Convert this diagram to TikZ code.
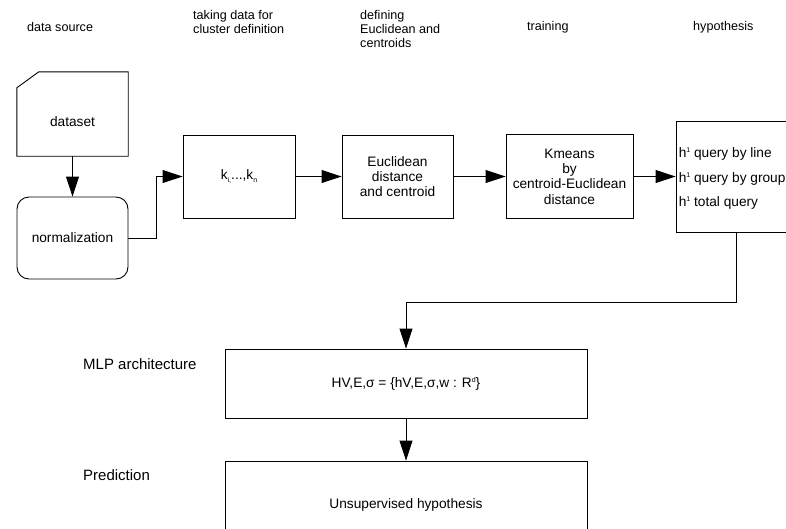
\documentclass[tikz,border=0pt]{standalone}
\usepackage{fontspec}
\setmainfont{Liberation Sans}
\usetikzlibrary{arrows.meta,calc}
\newcommand{\hdrfont}{\fontsize{12.6}{14}\selectfont}
\newcommand{\bodyfont}{\fontsize{13.7}{15.3}\selectfont}
\newcommand{\sidefont}{\fontsize{15}{18}\selectfont}
\newcommand{\tinysub}[1]{\raisebox{-3pt}{\fontsize{7}{7}\selectfont #1}}
\newcommand{\tinysup}[1]{\raisebox{5pt}{\fontsize{7}{7}\selectfont #1}}
\tikzset{
  boxnode/.style={draw, line width=0.9pt, inner sep=0pt, align=center, font=\bodyfont},
  hdrtext/.style={anchor=west, align=left, font=\hdrfont, inner sep=0pt},
  sidetext/.style={anchor=west, font=\sidefont, inner sep=0pt},
  conn/.style={line width=0.9pt, -{Triangle[length=20pt,width=13pt]}},
  plainline/.style={line width=0.9pt}
}
\begin{document}
\begin{tikzpicture}[x=1pt,y=-1pt]
\clip (0,0) rectangle (786,528);
\fill[white] (0,0) rectangle (786,528);
% headers
\node[hdrtext] (h1) at (27,27) {data source};
\node[hdrtext] (h2) at (193,22) {taking data for\\cluster definition};
\node[hdrtext] (h3) at (360,29) {defining\\Euclidean and\\centroids};
\node[hdrtext] (h4) at (527,27) {training};
\node[hdrtext] (h5) at (693,27) {hypothesis};
% dataset card
\node[minimum width=111pt, minimum height=84pt, inner sep=0pt] (ds) at (72.5,114) {};
\draw[plainline] ([yshift=-16pt]ds.north west) -- ([xshift=22pt]ds.north west) -- (ds.north east) -- (ds.south east) -- (ds.south west) -- cycle;
\node[font=\bodyfont, inner sep=0pt] (dslabel) at (72.5,122) {dataset};
% normalization
\node[boxnode, rounded corners=12pt, minimum width=111pt, minimum height=82pt] (norm) at (72.5,238) {normalization};
% k box
\node[boxnode, minimum width=112pt, minimum height=83pt] (k) at (239,176.5) {k\tinysub{i,}...,k\tinysub{n}};
% Euclidean
\node[boxnode, minimum width=111pt, minimum height=83pt] (euc) at (397.5,176.5) {Euclidean\\distance\\and centroid};
% Kmeans
\node[boxnode, minimum width=127pt, minimum height=84pt] (km) at (569.5,176.5) {Kmeans\\by\\centroid-Euclidean\\distance};
% hypothesis
\node[boxnode, minimum width=120pt, minimum height=111pt] (hyp) at (736,176.5) {};
\node[anchor=west, align=left, font=\fontsize{13.7}{24.5}\selectfont, inner sep=0pt] (hyptext) at ([xshift=3pt,yshift=-2pt]hyp.west)
  {h\tinysup{1} query by line\\h\tinysup{1} query by group\\h\tinysup{1} total query};
% MLP
\node[sidetext] (mlplabel) at (83,364) {MLP architecture};
\node[boxnode, minimum width=362pt, minimum height=69pt] (mlp) at (406,383.5) {HV,E,σ = \{hV,E,σ,w : R\tinysup{d}\}};
% Prediction
\node[sidetext] (predlabel) at (83,475) {Prediction};
\node[boxnode, minimum width=362pt, minimum height=88pt] (pred) at (406,505) {Unsupervised hypothesis};
% connectors
\draw[conn] (ds.south) -- (norm.north);
\draw[conn] (norm.east) -- ++(28,0) |- (k.west);
\draw[conn] (k.east) -- (euc.west);
\draw[conn] (euc.east) -- (km.west);
\draw[conn] (km.east) -- (hyp.west);
\draw[conn] (hyp.south) -- ++(0,70) -| (mlp.north);
\draw[conn] (mlp.south) -- (pred.north);
\end{tikzpicture}
\end{document}
